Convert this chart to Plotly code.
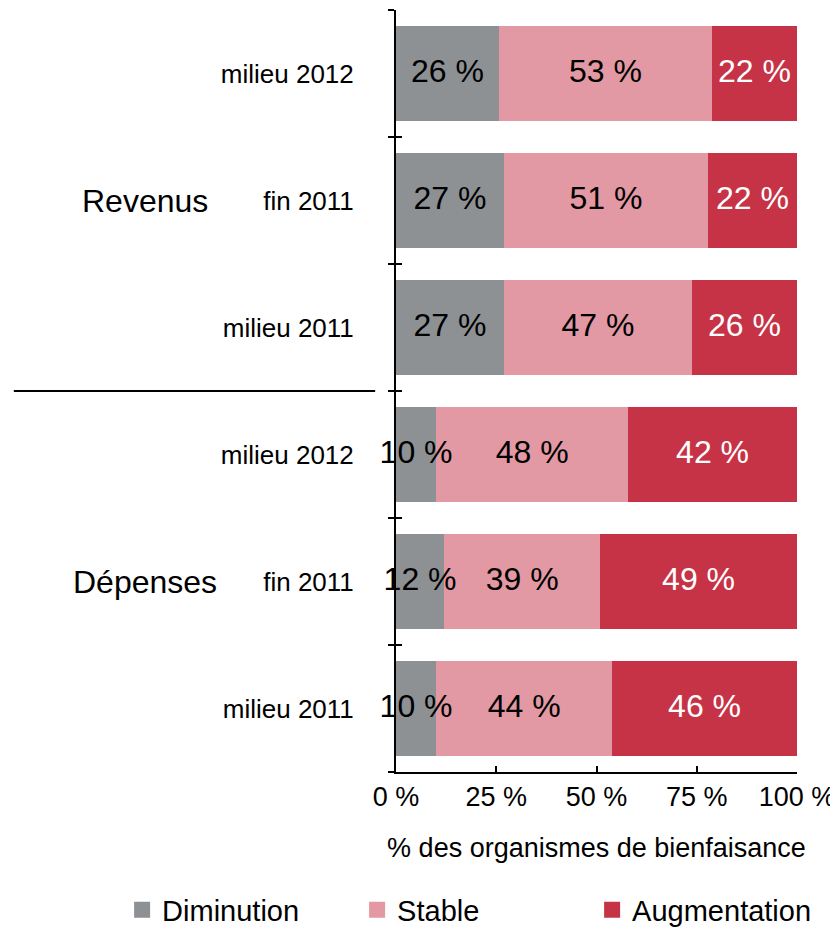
import plotly.graph_objects as go

# Categories, bottom to top
groups = ["Dépenses", "Dépenses", "Dépenses", "Revenus", "Revenus", "Revenus"]
periods = ["milieu 2011", "fin 2011", "milieu 2012", "milieu 2011", "fin 2011", "milieu 2012"]

# Estimated shares (%)
diminution = [10.0, 12.0, 10.0, 26.9, 26.9, 25.7]
stable = [43.9, 38.9, 47.9, 46.9, 50.9, 53.1]
augmentation = [46.1, 49.1, 42.1, 26.2, 22.2, 21.2]

# Printed labels
diminution_lbl = ["10 %", "12 %", "10 %", "27 %", "27 %", "26 %"]
stable_lbl = ["44 %", "39 %", "48 %", "47 %", "51 %", "53 %"]
augmentation_lbl = ["46 %", "49 %", "42 %", "26 %", "22 %", "22 %"]

series_names = ["Diminution", "Stable", "Augmentation"]
colors = ["#8E9194", "#E299A3", "#C73346"]
text_colors = ["black", "black", "white"]

x_ticks = [0, 25, 50, 75, 100]
x_ticktext = ["0 %", "25 %", "50 %", "75 %", "100 %"]

FONT = "Liberation Sans, Arial, Helvetica, sans-serif"

ykeys = [f"{g}|{p}" for g, p in zip(groups, periods)]
series_vals = [diminution, stable, augmentation]
series_lbls = [diminution_lbl, stable_lbl, augmentation_lbl]

fig = go.Figure()
for name, vals, col in zip(series_names, series_vals, colors):
    fig.add_trace(go.Bar(
        y=ykeys, x=vals, orientation="h", name=name,
        marker=dict(color=col, line=dict(width=0)),
        width=0.75,
        showlegend=False, hoverinfo="skip",
    ))
    # legend entry
    fig.add_trace(go.Scatter(
        x=[None], y=[None], mode="markers", name=name,
        marker=dict(symbol="square", size=16, color=col),
        showlegend=True, hoverinfo="skip",
    ))

# value labels drawn on top of all bars, centred in each segment
base = [0.0] * len(ykeys)
for vals, lbls, tcol in zip(series_vals, series_lbls, text_colors):
    mids = [b + v / 2 for b, v in zip(base, vals)]
    fig.add_trace(go.Scatter(
        x=mids, y=ykeys, mode="text", text=lbls,
        textposition="middle center", cliponaxis=False,
        textfont=dict(color=tcol, size=32, family=FONT),
        showlegend=False, hoverinfo="skip",
    ))
    base = [b + v for b, v in zip(base, vals)]

# helper trace for the inner half of the crossing y ticks
fig.add_trace(go.Scatter(x=[None], y=[None], yaxis="y2", showlegend=False, hoverinfo="skip"))

fig.update_layout(
    width=830, height=919,
    margin=dict(l=388, r=41, t=2, b=155, autoexpand=False),
    paper_bgcolor="white", plot_bgcolor="white",
    barmode="stack",
    bargap=0.25,
    font=dict(family=FONT, color="black"),
    xaxis=dict(
        range=[0, 100], tickvals=x_ticks, ticktext=x_ticktext,
        ticks="inside", ticklen=6, tickwidth=2, tickcolor="black",
        showline=True, linecolor="black", linewidth=2,
        showgrid=False, zeroline=False,
        tickfont=dict(size=27, family=FONT),
        title=dict(text="% des organismes de bienfaisance", font=dict(size=27, family=FONT), standoff=27),
        automargin=False,
    ),
    yaxis=dict(
        type="category", categoryorder="array", categoryarray=ykeys,
        tickvals=ykeys, ticktext=periods,
        range=[-0.5, 5.5],
        tickson="boundaries", ticks="outside", ticklen=6, tickwidth=2, tickcolor="black",
        showline=True, linecolor="black", linewidth=2,
        showgrid=False, zeroline=False,
        tickfont=dict(size=26, family=FONT),
        ticklabelstandoff=35,
        automargin=False,
    ),
    yaxis2=dict(
        overlaying="y", side="left", range=[-0.5, 5.5],
        tickvals=[-0.5, 0.5, 1.5, 2.5, 3.5, 4.5, 5.5],
        ticks="inside", ticklen=6, tickwidth=2, tickcolor="black",
        showticklabels=False, showline=False, showgrid=False, zeroline=False,
        automargin=False,
    ),
    legend=dict(
        orientation="h", x=-0.683, xanchor="left", y=-0.181, yanchor="middle",
        traceorder="normal",
        font=dict(size=29, family=FONT),
        entrywidth=190, entrywidthmode="pixels",
        itemclick=False, itemdoubleclick=False,
    ),
    annotations=[
        dict(text="Revenus", x=-0.626, y=ykeys[4], xref="paper", yref="y",
             showarrow=False, font=dict(size=32, family=FONT), xanchor="center"),
        dict(text="Dépenses", x=-0.626, y=ykeys[1], xref="paper", yref="y",
             showarrow=False, font=dict(size=32, family=FONT), xanchor="center"),
    ],
    shapes=[
        dict(type="line", xref="paper", yref="y2", x0=-0.953, x1=-0.052, y0=2.5, y1=2.5,
             line=dict(color="black", width=2)),
    ],
)

fig.write_html("out.html")
